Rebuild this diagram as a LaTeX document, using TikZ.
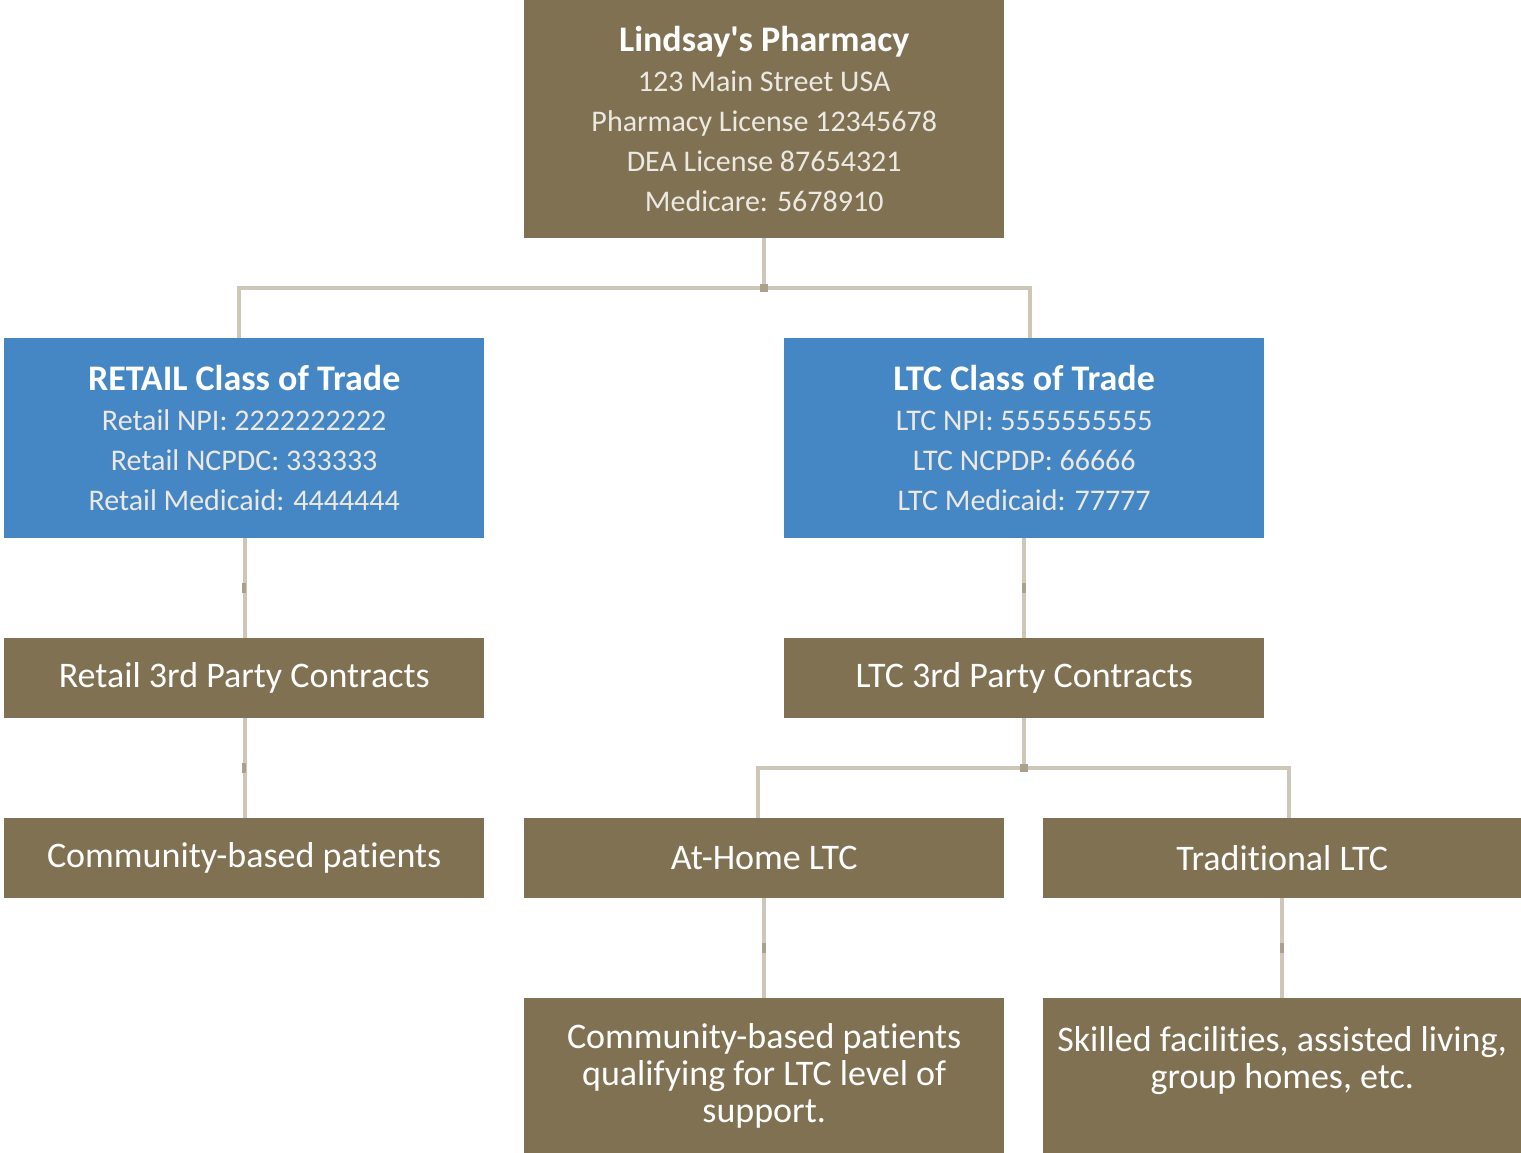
\documentclass[tikz,border=0pt]{standalone}
\usepackage{fontspec}
\setmainfont{Carlito}[Ligatures={TeXOff,NoCommon}]
\usetikzlibrary{calc}
\definecolor{brownbox}{HTML}{807152}
\definecolor{bluebox}{HTML}{4587C4}
\definecolor{connc}{HTML}{CEC6B9}
\definecolor{markc}{HTML}{ABA08B}
\definecolor{subtxt}{HTML}{ECE8E2}
\tikzset{
  box/.style={anchor=north west, inner sep=0pt, minimum width=480pt, align=center, text=white},
  brownfill/.style={box, fill=brownbox},
  bluefill/.style={box, fill=bluebox},
  conn/.style={draw=connc, line width=4pt},
  tick/.style={fill=markc, draw=none},
  bigtxt/.style={font=\fontsize{36}{37}\selectfont},
  infotxt/.style={font=\fontsize{30}{40}\selectfont},
}
\newcommand{\ttl}[1]{{\fontsize{36}{40}\selectfont\bfseries\color{white}#1}}
\newcommand{\sub}[1]{{\color{subtxt}#1}}
\begin{document}
\begin{tikzpicture}[x=1pt,y=-1pt]
\useasboundingbox (0,0) rectangle (1521,1153);
% nodes
\node[brownfill, minimum height=238pt, infotxt] (top) at (524,0)
  {\ttl{Lindsay's Pharmacy}\\ \sub{123 Main Street USA}\\ \sub{Pharmacy License 12345678}\\ \sub{DEA License 87654321}\\ \sub{Medicare: 5678910}};
\node[bluefill, minimum height=200pt, infotxt] (rct) at (4,338)
  {\ttl{RETAIL Class of Trade}\\ \sub{Retail NPI: 2222222222}\\ \sub{Retail NCPDC: 333333}\\ \sub{Retail Medicaid: 4444444}};
\node[bluefill, minimum height=200pt, infotxt] (lct) at (784,338)
  {\ttl{LTC Class of Trade}\\ \sub{LTC NPI: 5555555555}\\ \sub{LTC NCPDP: 66666}\\ \sub{LTC Medicaid: 77777}};
\node[brownfill, minimum height=80pt, bigtxt] (r3p) at (4,638) {Retail 3rd Party Contracts};
\node[brownfill, minimum height=80pt, bigtxt] (l3p) at (784,638) {LTC 3rd Party Contracts};
\node[brownfill, minimum height=80pt, bigtxt] (comm) at (4,818) {Community-based patients};
\node[brownfill, minimum height=80pt, bigtxt] (home) at (524,818) {At-Home LTC};
\node[brownfill, minimum height=80pt, minimum width=478pt, bigtxt] (trad) at (1043,818) {Traditional LTC};
\node[brownfill, minimum height=155pt, bigtxt] (qual) at (524,998)
  {Community-based patients\\ qualifying for LTC level of\\ support.};
\node[brownfill, minimum height=155pt, minimum width=478pt, bigtxt] (skil) at (1043,998)
  {Skilled facilities, assisted living,\\ group homes, etc.\\ \mbox{}};
% junctions
\coordinate (j1) at ($(top.south)+(0,50)$);
\coordinate (j2) at ($(l3p.south)+(0,50)$);
% connectors
\draw[conn] (top.south) -- (j1);
\draw[conn] (j1) -| ([xshift=-5pt]rct.north);
\draw[conn] (j1) -| ([xshift=6pt]lct.north);
\draw[conn] ([xshift=1pt]rct.south) -- ([xshift=1pt]r3p.north);
\draw[conn] (lct.south) -- (l3p.north);
\draw[conn] ([xshift=1pt]r3p.south) -- ([xshift=1pt]comm.north);
\draw[conn] (l3p.south) -- (j2);
\draw[conn] (j2) -| ([xshift=-6pt]home.north);
\draw[conn] (j2) -| ([xshift=7pt]trad.north);
\draw[conn] (home.south) -- (qual.north);
\draw[conn] (trad.south) -- (trad.south |- skil.north);
% small marks
\fill[tick] ($(j1)+(-4,-4)$) rectangle ++(8,8);
\fill[tick] ($(j2)+(-4,-4)$) rectangle ++(8,8);
\foreach \a/\b in {rct/r3p, lct/l3p, r3p/comm, home/qual}{
  \fill[tick] ($(\a.south)!0.5!(\b.north)+(-2,-5)$) rectangle ++(4,10);
}
\fill[tick] ($(trad.south)+(0,50)+(-2,-5)$) rectangle ++(4,10);
\end{tikzpicture}
\end{document}
